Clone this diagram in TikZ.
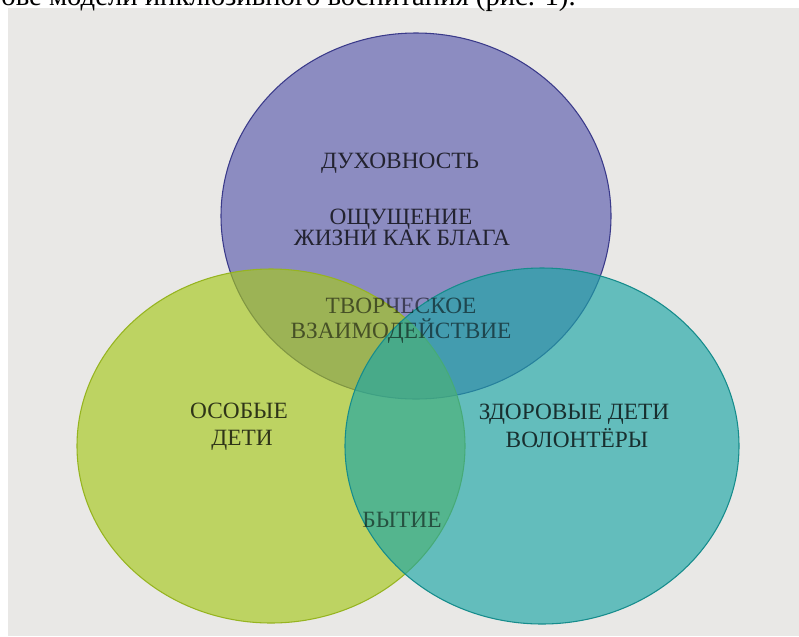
\documentclass[tikz,border=0pt]{standalone}
\usepackage{fontspec}
\setmainfont{Liberation Serif}
\usetikzlibrary{positioning}
\definecolor{paper}{HTML}{E9E8E6}
\definecolor{spiritfill}{HTML}{5B5BAE}
\definecolor{spiritedge}{HTML}{3A3A8A}
\definecolor{specialfill}{HTML}{A6C81C}
\definecolor{specialedge}{HTML}{96B420}
\definecolor{healthyfill}{HTML}{1CA6A6}
\definecolor{healthyedge}{HTML}{168C8C}
\tikzset{
    circ/.style = {fill opacity=0.65, line width=0.8pt},
    lbl/.style = {inner sep=0pt, anchor=base, font=\fontsize{17.5}{20}\selectfont, text opacity=0.75},
    mixlbl/.style = {lbl, text opacity=0.55}
}

\begin{document}
\begin{tikzpicture}[x=0.75pt, y=-0.75pt]
    \useasboundingbox (0,0) rectangle (799,636);
    \clip (0,0) rectangle (799,636);
    % paper sheet behind the diagram
    \fill[paper] (8,8) rectangle (799,636);
    \node[inner sep=0pt, anchor=base east, font=\fontsize{21.5}{24}\selectfont] (caption) at (576,5) {ове модели инклюзивного воспитания (рис. 1).};
    \coordinate (spirit) at (416,216);
    \coordinate (special) at (271,446);
    \coordinate (healthy) at (542,446);
    % upper circle
    \filldraw[circ, fill=spiritfill, draw=spiritedge] (spirit) ellipse [x radius=195, y radius=183];
    \node[lbl] (dukh) at (400,168) {ДУХОВНОСТЬ};
    \node[lbl] (oshch) at (401,224) {ОЩУЩЕНИЕ};
    \node[lbl] (zhizn) at (402,245) {ЖИЗНИ КАК БЛАГА};
    % left circle
    \filldraw[circ, fill=specialfill, draw=specialedge] (special) ellipse [x radius=194, y radius=177];
    \node[lbl] (osob) at (239,418) {ОСОБЫЕ};
    \node[lbl] (deti) at (242,445) {ДЕТИ};
    % right circle
    \filldraw[circ, fill=healthyfill, draw=healthyedge] (healthy) ellipse [x radius=197, y radius=178];
    \node[lbl] (zdor) at (574,419) {ЗДОРОВЫЕ ДЕТИ};
    \node[lbl] (volon) at (577,447) {ВОЛОНТЁРЫ};
    % texts in the overlaps
    \node[mixlbl] (tvor) at (401,313) {ТВОРЧЕСКОЕ};
    \node[mixlbl] (vzaim) at (401,338) {ВЗАИМОДЕЙСТВИЕ};
    \node[mixlbl] (bytie) at (402,527) {БЫТИЕ};
\end{tikzpicture}
\end{document}
